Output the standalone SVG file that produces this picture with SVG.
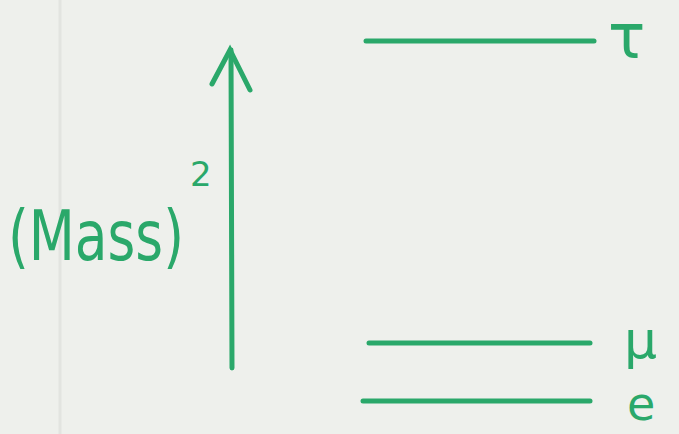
<svg xmlns="http://www.w3.org/2000/svg" width="679" height="434" viewBox="0 0 679 434">
<style>
.ln{stroke:#2aa86a;stroke-width:5;stroke-linecap:round;fill:none}
.t{fill:#2aa86a;font-family:"DejaVu Sans",sans-serif}
</style>
<rect width="679" height="434" fill="#eef0ec"/>
<line x1="60" y1="0" x2="60" y2="434" stroke="#e2e4e0" stroke-width="3"/>
<g id="connectors">
<line class="ln" x1="232" y1="368" x2="231" y2="50"/>
<polyline class="ln" points="212,84 230,50 250,90"/>
</g>
<g id="tau"><line class="ln" x1="366" y1="41" x2="594" y2="41"/><text class="t" x="608" y="58" font-size="62">τ</text></g>
<g id="mu"><line class="ln" x1="369" y1="343" x2="590" y2="343"/><text class="t" x="624" y="358" font-size="52">μ</text></g>
<g id="e"><line class="ln" x1="363" y1="401" x2="590" y2="401"/><text class="t" x="627" y="420" font-size="46">e</text></g>
<g id="label"><text class="t" x="8" y="260" font-size="70" textLength="176" lengthAdjust="spacingAndGlyphs">(Mass)</text><text class="t" x="190" y="186" font-size="34">2</text></g>
</svg>
